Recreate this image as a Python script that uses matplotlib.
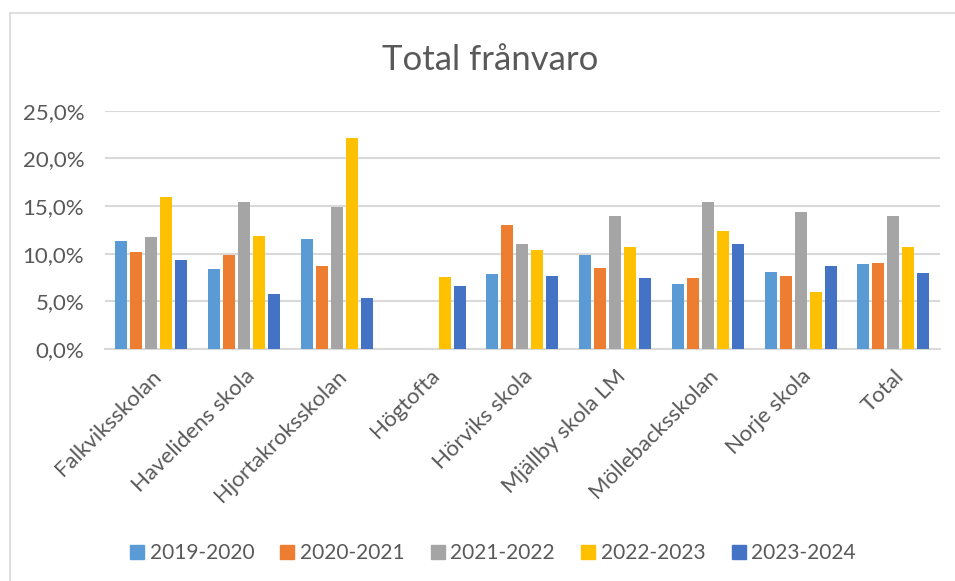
import numpy as np
import matplotlib
matplotlib.use("Agg")
import matplotlib.pyplot as plt
from matplotlib.lines import Line2D

categories = ["Falkviksskolan", "Havelidens skola", "Hjortakroksskolan", "Högtofta",
              "Hörviks skola", "Mjällby skola LM", "Möllebacksskolan", "Norje skola", "Total"]
series_names = ["2019-2020", "2020-2021", "2021-2022", "2022-2023", "2023-2024"]
s2019 = [11.3, 8.4, 11.6, np.nan, 7.9, 9.9, 6.8, 8.1, 8.9]
s2020 = [10.2, 9.9, 8.7, np.nan, 13.0, 8.5, 7.5, 7.7, 9.0]
s2021 = [11.8, 15.4, 14.9, np.nan, 11.0, 14.0, 15.4, 14.4, 14.0]
s2022 = [15.9, 11.9, 22.1, 7.6, 10.4, 10.7, 12.4, 6.0, 10.7]
s2023 = [9.4, 5.8, 5.4, 6.6, 7.7, 7.5, 11.0, 8.7, 8.0]
yticks = [0, 5, 10, 15, 20, 25]
ytick_labels = ["0,0%", "5,0%", "10,0%", "15,0%", "20,0%", "25,0%"]

colors = ["#5B9BD5", "#ED7D31", "#A5A5A5", "#FFC000", "#4472C4"]
data = [s2019, s2020, s2021, s2022, s2023]

plt.rcParams['font.family'] = ['Lato', 'DejaVu Sans']
txt = "#595959"
grid = "#D9D9D9"

fig = plt.figure(figsize=(9.55, 5.81), dpi=100)
ax = fig.add_axes([0.110, 0.399, 0.874, 0.4105])

x = np.arange(len(categories))
w = 0.129
pitch = 0.1616
for i, (vals, c) in enumerate(zip(data, colors)):
    ax.bar(x + (i - 2) * pitch, np.array(vals, dtype=float), width=w, color=c,
           label=series_names[i], zorder=3)

ax.set_xlim(-0.5, len(categories) - 0.5)
ax.set_ylim(0, 25)
ax.set_yticks(yticks)
ax.set_yticklabels(ytick_labels, color=txt, fontsize=16)
ax.yaxis.grid(True, color=grid, linewidth=1.5, zorder=0)
ax.tick_params(axis='y', length=0, pad=15)
ax.tick_params(axis='x', length=0, pad=12)
ax.set_xticks(x)
ax.set_xticklabels(categories, rotation=45, ha='right', va='top',
                   rotation_mode='anchor', color=txt, fontsize=16)
for s in ["top", "right", "left"]:
    ax.spines[s].set_visible(False)
ax.spines["bottom"].set_color(grid)
ax.spines["bottom"].set_linewidth(1.5)

fig.text(0.513, 0.897, "Total frånvaro", ha='center', va='center', color=txt, fontsize=25)

handles = [Line2D([0], [0], marker='s', linestyle='none', markersize=10,
                  markerfacecolor=c, markeredgecolor=c) for c in colors]
fig.legend(handles, series_names, loc='center', bbox_to_anchor=(0.515, 0.048), ncol=5,
           frameon=False, fontsize=15, labelcolor=txt, handletextpad=0.15,
           columnspacing=1.15, handlelength=0.9)

# chart frame (left and top borders)
fig.add_artist(Line2D([0.0105, 0.0105], [0, 0.9776], color=grid, linewidth=1.2,
                      transform=fig.transFigure))
fig.add_artist(Line2D([0.0105, 1.0], [0.9776, 0.9776], color=grid, linewidth=1.2,
                      transform=fig.transFigure))

fig.savefig("out.png", dpi=100)
